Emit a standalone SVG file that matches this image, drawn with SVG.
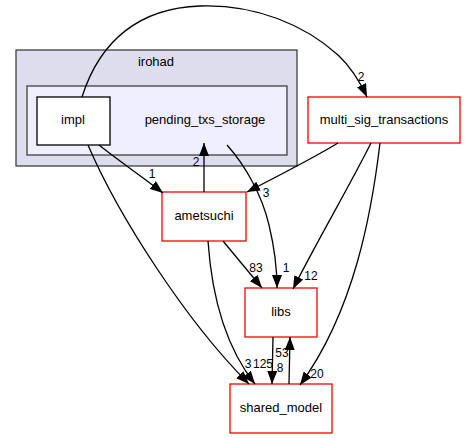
<svg xmlns="http://www.w3.org/2000/svg" width="465" height="438" viewBox="0 0 465 438">
<style>
text{font-family:"Liberation Sans",Arial,sans-serif;font-size:13px;fill:#000}
.c{text-anchor:middle}
.l{font-size:12px}
.node{fill:#fff;stroke:#ff0000;stroke-width:1.3}
.edge{fill:none;stroke:#000;stroke-width:1.3;marker-end:url(#ah)}
</style>
<defs>
<marker id="ah" markerUnits="userSpaceOnUse" viewBox="0 0 13 10" markerWidth="13" markerHeight="10" refX="13" refY="5" orient="auto">
<path d="M0,0 L13,5 L0,10 z" fill="#000"/>
</marker>
</defs>
<rect width="465" height="438" fill="#fff"/>
<g id="cluster_irohad">
<rect x="16" y="50" width="281" height="116" fill="#ddddee" stroke="#404040" stroke-width="1.3"/>
<text class="c" x="156" y="66">irohad</text>
</g>
<g id="cluster_pending_txs_storage">
<rect x="27" y="86" width="260" height="69" fill="#eeeeff" stroke="#404040" stroke-width="1.3"/>
<text class="c" x="205" y="124">pending_txs_storage</text>
</g>
<g id="node_impl">
<rect x="37" y="97" width="73" height="48" fill="#fff" stroke="#000" stroke-width="1.3"/>
<text class="c" x="73" y="124">impl</text>
</g>
<g id="node_multi_sig_transactions">
<rect class="node" x="308" y="97" width="152" height="46"/>
<text class="c" x="384" y="124">multi_sig_transactions</text>
</g>
<g id="node_ametsuchi">
<rect class="node" x="162" y="192" width="84" height="49"/>
<text class="c" x="204" y="220">ametsuchi</text>
</g>
<g id="node_libs">
<rect class="node" x="245" y="288" width="72" height="49"/>
<text class="c" x="281" y="316">libs</text>
</g>
<g id="node_shared_model">
<rect class="node" x="230" y="384" width="102" height="49"/>
<text class="c" x="281" y="412">shared_model</text>
</g>
<g id="connectors">
<path class="edge" d="M82,97 C100,40 140,8 200,6 C255,4 305,25 338,55 C352,68 360,82 367,97"/>
<text class="c l" x="361" y="81">2</text>
<path class="edge" d="M99,145 C115,158 140,175 163,193"/>
<text class="c l" x="152" y="178">1</text>
<path class="edge" d="M88,145 C118,215 185,320 249,384"/>
<text class="c l" x="248" y="368">3</text>
<path class="edge" d="M208,241 C212,300 228,350 255,384"/>
<text class="c l" x="263" y="368">125</text>
<path class="edge" d="M204,192 L204,143"/>
<text class="c l" x="196" y="166">2</text>
<path class="edge" d="M227,145 C245,165 262,195 269,225 C275,250 277,270 277,288"/>
<text class="c l" x="286" y="272">1</text>
<path class="edge" d="M338,143 C310,160 270,180 247,192"/>
<text class="c l" x="266" y="197">3</text>
<path class="edge" d="M371,143 C350,185 315,245 293,289"/>
<text class="c l" x="311" y="280">12</text>
<path class="edge" d="M380,143 C372,210 355,310 300,385"/>
<text class="c l" x="317" y="378">20</text>
<path class="edge" d="M223,241 L262,288"/>
<text class="c l" x="256" y="272">83</text>
<path class="edge" d="M273,337 L272,384"/>
<text class="c l" x="280" y="372">8</text>
<path class="edge" d="M289,384 L290,337"/>
<text class="c l" x="282" y="357">53</text>
</g>
</svg>
